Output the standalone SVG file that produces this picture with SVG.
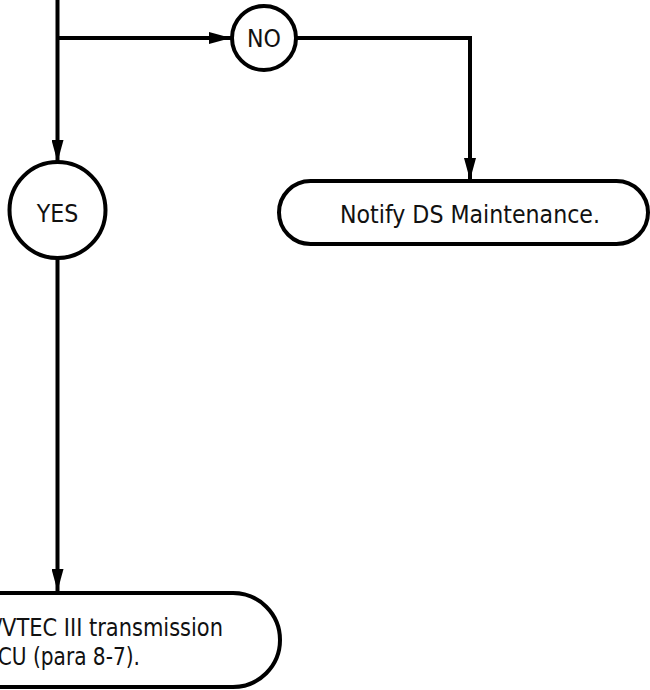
<svg xmlns="http://www.w3.org/2000/svg" width="650" height="690" viewBox="0 0 650 690">
  <style>
    .shape { fill: #ffffff; stroke: #000000; stroke-width: 4; }
    .wire { fill: none; stroke: #000000; stroke-width: 4; }
    .label { font-family: "DejaVu Sans Condensed", "DejaVu Sans", sans-serif; font-stretch: condensed; font-size: 24.6px; fill: #111111; }
  </style>
  <defs>
    <marker id="arrow" viewBox="0 0 22 12" refX="22" refY="6" markerWidth="22" markerHeight="12" markerUnits="userSpaceOnUse" orient="auto">
      <path d="M0,0 L22,6 L0,12 Z" fill="#000000"/>
    </marker>
  </defs>

  <!-- connectors -->
  <g id="connectors">
    <path class="wire" d="M57.5,0 V162" marker-end="url(#arrow)"/>
    <path class="wire" d="M57.5,38 H231" marker-end="url(#arrow)"/>
    <path class="wire" d="M296,38 H470 V180" marker-end="url(#arrow)"/>
    <path class="wire" d="M57.5,257 V591" marker-end="url(#arrow)"/>
  </g>

  <!-- decision outcome: NO -->
  <g id="node-no">
    <circle class="shape" cx="264" cy="38" r="32"/>
    <text class="label" x="264" y="47" text-anchor="middle">NO</text>
  </g>

  <!-- decision outcome: YES -->
  <g id="node-yes">
    <circle class="shape" cx="57.5" cy="210" r="48"/>
    <text class="label" x="57.5" y="222" text-anchor="middle">YES</text>
  </g>

  <!-- terminal: notify maintenance -->
  <g id="node-notify">
    <rect class="shape" x="279" y="181" width="369" height="63" rx="31.5" ry="31.5"/>
    <text class="label" x="470" y="223" text-anchor="middle">Notify DS Maintenance.</text>
  </g>

  <!-- terminal: transmission ECU -->
  <g id="node-ecu">
    <rect class="shape" x="-120" y="593" width="400" height="94" rx="47" ry="47"/>
    <text class="label" x="-5" y="636" textLength="228" lengthAdjust="spacingAndGlyphs">/VTEC III transmission</text>
    <text class="label" x="-15" y="665" textLength="155" lengthAdjust="spacingAndGlyphs">ECU (para 8-7).</text>
  </g>
</svg>
